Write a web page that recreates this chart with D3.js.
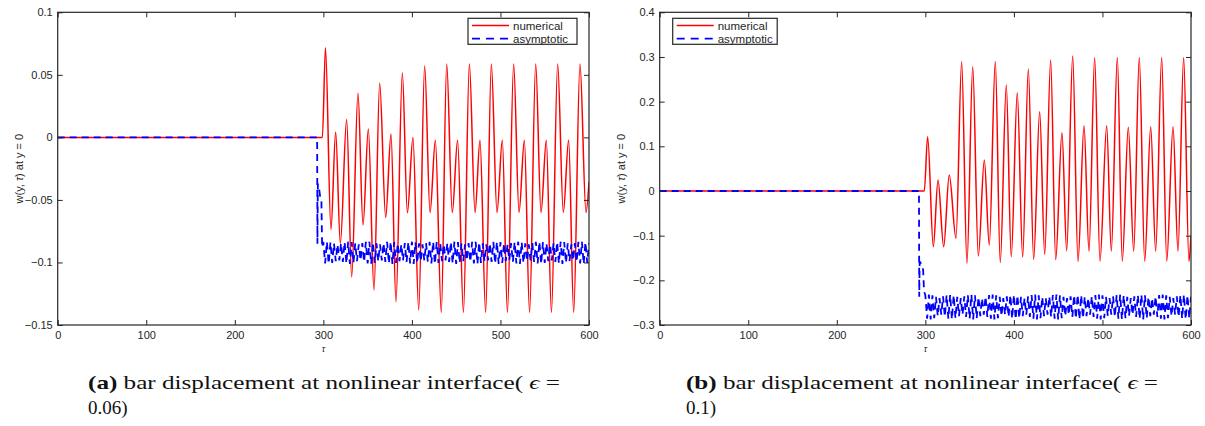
<!DOCTYPE html>
<html>
<head>
<meta charset="utf-8">
<script src="https://cdn.jsdelivr.net/npm/d3@7"></script>
<style>
  body { margin: 0; background: #fff; }
  svg { display: block; }
  .tick text, .lbl, .leg { font-family: "Liberation Sans", Arial, sans-serif; fill: #262626; }
  .cap { font-family: "Liberation Serif", "DejaVu Serif", serif; fill: #111; }
</style>
</head>
<body>
<svg id="fig" width="1205" height="426"></svg>
<script>
// ---- axis ticks -------------------------------------------------------
const xTicks = [0, 100, 200, 300, 400, 500, 600];
const yTicksA = [0.1, 0.05, 0, -0.05, -0.1, -0.15];
const yTicksB = [0.4, 0.3, 0.2, 0.1, 0, -0.1, -0.2, -0.3];
const seriesNames = ["numerical", "asymptotic"];

// ---- (a) eps = 0.06 : numerical solution, turning points ---------------
const numTauA = [0, 298.9, 302.4, 308.6, 313.9, 319.2, 326.3, 332.0, 339.1, 344.8, 350.8,
  357.2, 363.6, 370.4, 376.4, 382.0, 389.2, 394.9, 401.2, 407.7, 414.4, 420.5, 426.5,
  433.2, 439.3, 445.6, 451.6, 458.2, 464.9, 471.3, 476.9, 483.3, 489.7, 496.1, 502.1,
  507.9, 514.9, 521.0, 527.0, 532.9, 539.8, 545.8, 551.8, 557.6, 564.6, 571.0, 577.0,
  582.7, 589.8, 596.6, 600];
const numValA = [0, 0, 0.0716, -0.0736, 0.0044, -0.0848, 0.0143, -0.1115, 0.0352, -0.0700, 0.0068,
  -0.1220, 0.0432, -0.0640, 0.0028, -0.1314, 0.0514, -0.0603, 0.0000, -0.1380, 0.0571, -0.0600, -0.0023,
  -0.1400, 0.0586, -0.0600, -0.0023, -0.1400, 0.0586, -0.0600, -0.0023, -0.1400, 0.0586, -0.0600, -0.0023,
  -0.1400, 0.0586, -0.0600, -0.0023, -0.1400, 0.0586, -0.0600, -0.0023, -0.1400, 0.0586, -0.0600, -0.0023,
  -0.1400, 0.0586, -0.0600, -0.0356];

// ---- (a) asymptotic: switch-on part, then the fast band ---------------
const asymLeadTauA = [0, 293.0, 293.3, 293.8, 295.0, 296.5, 297.8, 298.6];
const asymLeadValA = [0, 0, -0.0850, -0.0370, -0.0400, -0.0480, -0.0500, -0.0880];
const asymBandStartA = 300, asymBandStepA = 2;
const asymHiA = [-.0836,-.0834,-.0838,-.0848,-.0856,-.0846, -.0836,-.0834,-.0838,-.0848,-.0856,-.0846,
  -.0836,-.0834,-.0838,-.0848,-.0856,-.0846, -.0836,-.0834,-.0838,-.0848,-.0856,-.0846,
  -.0836,-.0834,-.0838,-.0848,-.0856,-.0846, -.0836,-.0834,-.0838,-.0848,-.0856,-.0846,
  -.0836,-.0834,-.0838,-.0848,-.0856,-.0846, -.0836,-.0834,-.0838,-.0848,-.0856,-.0846,
  -.0836,-.0834,-.0838,-.0848,-.0856,-.0846, -.0836,-.0834,-.0838,-.0848,-.0856,-.0846,
  -.0836,-.0834,-.0838,-.0848,-.0856,-.0846, -.0836,-.0834,-.0838,-.0848,-.0856,-.0846,
  -.0836,-.0834,-.0838,-.0848];
const asymLoA = [-.1008,-.1012,-.1004,-.0990,-.0984,-.0996, -.1008,-.1012,-.1004,-.0990,-.0984,-.0996,
  -.1008,-.1012,-.1004,-.0990,-.0984,-.0996, -.1008,-.1012,-.1004,-.0990,-.0984,-.0996,
  -.1008,-.1012,-.1004,-.0990,-.0984,-.0996, -.1008,-.1012,-.1004,-.0990,-.0984,-.0996,
  -.1008,-.1012,-.1004,-.0990,-.0984,-.0996, -.1008,-.1012,-.1004,-.0990,-.0984,-.0996,
  -.1008,-.1012,-.1004,-.0990,-.0984,-.0996, -.1008,-.1012,-.1004,-.0990,-.0984,-.0996,
  -.1008,-.1012,-.1004,-.0990,-.0984,-.0996, -.1008,-.1012,-.1004,-.0990,-.0984,-.0996,
  -.1008,-.1012,-.1004];

// ---- (b) eps = 0.1 : numerical solution, turning points ----------------
const numTauB = [0, 298.8, 302.6, 309.0, 314.3, 320.7, 327.0, 334.6, 341.0, 347.0, 353.5,
  359.8, 366.6, 372.2, 379.0, 384.6, 391.4, 397.0, 403.8, 409.9, 416.3, 422.3, 429.1,
  434.8, 441.5, 447.2, 454.3, 459.6, 466.4, 472.4, 479.2, 484.8, 491.2, 497.2, 504.8,
  510.0, 516.8, 522.4, 529.2, 535.3, 541.6, 547.7, 554.5, 560.1, 566.9, 572.6, 579.7,
  585.3, 591.7, 597.7, 600];
const numValB = [0, 0, 0.1215, -0.1247, 0.0246, -0.1247, 0.0358, -0.1060, 0.2894, -0.1620, 0.2782,
  -0.1455, 0.0694, -0.1210, 0.2900, -0.1600, 0.2372, -0.1470, 0.2200, -0.1480, 0.2724, -0.1530, 0.1775,
  -0.1418, 0.2932, -0.1535, 0.1305, -0.1340, 0.3020, -0.1580, 0.1460, -0.1350, 0.2984, -0.1570, 0.1460,
  -0.1350, 0.2990, -0.1570, 0.1425, -0.1350, 0.2990, -0.1570, 0.1440, -0.1350, 0.2990, -0.1570, 0.1440,
  -0.1350, 0.2990, -0.1570, -0.1000];

// ---- (b) asymptotic ----------------------------------------------------
const asymLeadTauB = [0, 292.8, 293.1, 293.6, 295.0, 296.5, 297.5, 298.5];
const asymLeadValB = [0, 0, -0.2370, -0.1580, -0.1620, -0.1720, -0.1760, -0.2250];
const asymBandStartB = 300, asymBandStepB = 2;
const asymHiB = [-.2330,-.2320,-.2335,-.2370,-.2400,-.2360, -.2330,-.2320,-.2335,-.2370,-.2400,-.2360,
  -.2330,-.2320,-.2335,-.2370,-.2400,-.2360, -.2330,-.2320,-.2335,-.2370,-.2400,-.2360,
  -.2330,-.2320,-.2335,-.2370,-.2400,-.2360, -.2330,-.2320,-.2335,-.2370,-.2400,-.2360,
  -.2330,-.2320,-.2335,-.2370,-.2400,-.2360, -.2330,-.2320,-.2335,-.2370,-.2400,-.2360,
  -.2330,-.2320,-.2335,-.2370,-.2400,-.2360, -.2330,-.2320,-.2335,-.2370,-.2400,-.2360,
  -.2330,-.2320,-.2335,-.2370,-.2400,-.2360, -.2330,-.2320,-.2335,-.2370,-.2400,-.2360,
  -.2330,-.2320,-.2335,-.2370];
const asymLoB = [-.2860,-.2875,-.2850,-.2800,-.2770,-.2820, -.2860,-.2875,-.2850,-.2800,-.2770,-.2820,
  -.2860,-.2875,-.2850,-.2800,-.2770,-.2820, -.2860,-.2875,-.2850,-.2800,-.2770,-.2820,
  -.2860,-.2875,-.2850,-.2800,-.2770,-.2820, -.2860,-.2875,-.2850,-.2800,-.2770,-.2820,
  -.2860,-.2875,-.2850,-.2800,-.2770,-.2820, -.2860,-.2875,-.2850,-.2800,-.2770,-.2820,
  -.2860,-.2875,-.2850,-.2800,-.2770,-.2820, -.2860,-.2875,-.2850,-.2800,-.2770,-.2820,
  -.2860,-.2875,-.2850,-.2800,-.2770,-.2820, -.2860,-.2875,-.2850,-.2800,-.2770,-.2820,
  -.2860,-.2875,-.2850];

// ---- drawing -----------------------------------------------------------
const svg = d3.select("#fig");
const AX = "#262626";

function zipPts(ts, vs) { return ts.map((t, i) => [t, vs[i]]); }

// lead-in points followed by the band, alternating upper/lower turning points
function asymPoints(leadT, leadV, start, step, hi, lo) {
  const pts = zipPts(leadT, leadV);
  const n = hi.length + lo.length;
  for (let i = 0; i < n; i++) {
    const v = i % 2 === 0 ? hi[i >> 1] : lo[i >> 1];
    pts.push([start + i * step, v]);
  }
  return pts;
}

function panel(p) {
  const x = d3.scaleLinear().domain([0, 600]).range([p.x0, p.x1]);
  const y = d3.scaleLinear().domain(p.yDomain).range([325, 12.3]);
  const g = svg.append("g");
  const clipId = "clip-" + p.id;
  g.append("clipPath").attr("id", clipId).append("rect")
    .attr("x", p.x0).attr("y", 12.3).attr("width", p.x1 - p.x0).attr("height", 325 - 12.3);

  const plot = g.append("g").attr("clip-path", `url(#${clipId})`);
  const smooth = d3.line().x(d => x(d[0])).y(d => y(d[1])).curve(d3.curveMonotoneX);
  const straight = d3.line().x(d => x(d[0])).y(d => y(d[1]));

  plot.append("path").attr("d", smooth(zipPts(p.numT, p.numV)))
    .attr("fill", "none").attr("stroke", "#ff0000").attr("stroke-width", 1.5);
  plot.append("path").attr("d", straight(p.asym))
    .attr("fill", "none").attr("stroke", "#0000ff").attr("stroke-width", 1.8)
    .attr("stroke-dasharray", "7,5");

  // axes, ticks pointing inward on all four sides
  const fmt = d => d3.format("")(+d.toFixed(2));
  const styleAxis = sel => {
    sel.select(".domain").remove();
    sel.selectAll(".tick line").attr("stroke", AX);
    sel.selectAll(".tick text").attr("font-size", 11).attr("fill", AX);
  };
  g.append("g").attr("transform", "translate(0,325)")
    .call(d3.axisBottom(x).tickValues(xTicks).tickSize(-5).tickPadding(6).tickFormat(d3.format("d")))
    .call(styleAxis);
  g.append("g").attr("transform", "translate(0,12.3)")
    .call(d3.axisTop(x).tickValues(xTicks).tickSize(-5).tickFormat(""))
    .call(styleAxis);
  g.append("g").attr("transform", `translate(${p.x0},0)`)
    .call(d3.axisLeft(y).tickValues(p.yTicks).tickSize(-5).tickPadding(5).tickFormat(fmt))
    .call(styleAxis);
  g.append("g").attr("transform", `translate(${p.x1},0)`)
    .call(d3.axisRight(y).tickValues(p.yTicks).tickSize(-5).tickFormat(""))
    .call(styleAxis);
  g.append("rect").attr("x", p.x0).attr("y", 12.3).attr("width", p.x1 - p.x0).attr("height", 325 - 12.3)
    .attr("fill", "none").attr("stroke", AX).attr("stroke-width", 1.2);

  // axis titles
  g.append("text").attr("class", "lbl").attr("font-size", 11)
    .attr("transform", `translate(${p.x0 - 35},${(12.3 + 325) / 2}) rotate(-90)`)
    .attr("text-anchor", "middle")
    .html('w(y, <tspan font-style="italic">τ</tspan>) at y = 0');
  g.append("text").attr("class", "lbl").attr("font-size", 9).attr("font-style", "italic")
    .attr("x", (p.x0 + p.x1) / 2).attr("y", 352).attr("text-anchor", "middle").text("τ");

  // legend
  const L = g.append("g").attr("transform", `translate(${p.legX},18.3)`);
  L.append("rect").attr("width", p.legW).attr("height", 26).attr("fill", "#fff")
    .attr("stroke", AX).attr("stroke-width", 1.2);
  [["#ff0000", null, 1.5], ["#0000ff", "8,6", 1.8]].forEach((s, i) => {
    const yy = 7.3 + i * 13;
    L.append("line").attr("x1", 4).attr("x2", 41).attr("y1", yy).attr("y2", yy)
      .attr("stroke", s[0]).attr("stroke-width", s[2]).attr("stroke-dasharray", s[1]);
    L.append("text").attr("class", "leg").attr("x", 45).attr("y", yy + 4).attr("font-size", 11.5)
      .text(seriesNames[i]);
  });

  // caption
  const cap = svg.append("text").attr("class", "cap").attr("x", p.capX).attr("y", 389)
    .attr("font-size", 19).attr("textLength", 472).attr("lengthAdjust", "spacingAndGlyphs");
  cap.append("tspan").attr("font-weight", "bold").text(p.tag);
  cap.append("tspan").text(" bar displacement at nonlinear interface( ");
  cap.append("tspan").attr("font-style", "italic").text("ϵ");
  cap.append("tspan").text(" =");
  svg.append("text").attr("class", "cap").attr("x", p.capX).attr("y", 414)
    .attr("font-size", 19).text(p.tail);
}

panel({
  id: "a", x0: 57.7, x1: 589, yDomain: [-0.15, 0.1], yTicks: yTicksA,
  numT: numTauA, numV: numValA,
  asym: asymPoints(asymLeadTauA, asymLeadValA, asymBandStartA, asymBandStepA, asymHiA, asymLoA),
  legX: 468, legW: 109, capX: 88, tag: "(a)", tail: "0.06)"
});
panel({
  id: "b", x0: 659.7, x1: 1191, yDomain: [-0.3, 0.4], yTicks: yTicksB,
  numT: numTauB, numV: numValB,
  asym: asymPoints(asymLeadTauB, asymLeadValB, asymBandStartB, asymBandStepB, asymHiB, asymLoB),
  legX: 672.7, legW: 104.5, capX: 686, tag: "(b)", tail: "0.1)"
});
</script>
</body>
</html>
